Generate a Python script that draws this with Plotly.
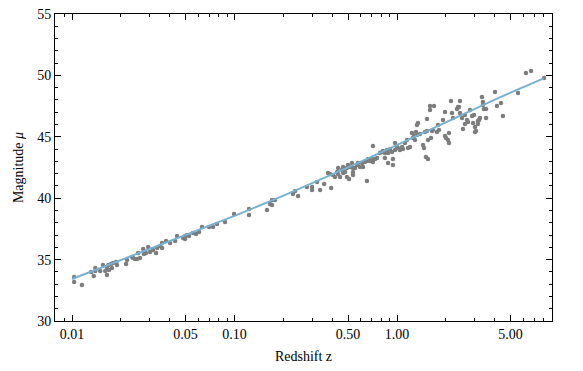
import plotly.graph_objects as go

# observed points: redshift z and distance modulus mu
z_obs = [
    0.0103, 0.0103, 0.0115, 0.0131, 0.0136, 0.0139, 0.0139, 0.0149, 0.0155, 0.0160,
    0.0164, 0.0164, 0.0167, 0.0169, 0.0174, 0.0176, 0.0179, 0.0187, 0.0189, 0.0215,
    0.0218, 0.0234, 0.0237, 0.0244, 0.0251, 0.0255, 0.0262, 0.0274, 0.0277, 0.0285,
    0.0294, 0.0302, 0.0315, 0.0329, 0.0334, 0.0348, 0.0358, 0.0358, 0.0379, 0.0401,
    0.0431, 0.0443, 0.0482, 0.0496, 0.0510, 0.0496, 0.0525, 0.0555, 0.0580, 0.0605,
    0.0631, 0.0697, 0.0738, 0.0780, 0.0874, 0.0993, 0.1228, 0.1228, 0.1585, 0.1701,
    0.1701, 0.1775, 0.1653,
    0.229, 0.236, 0.246, 0.279, 0.300, 0.300, 0.322, 0.336, 0.356, 0.393,
    0.376, 0.387, 0.404, 0.415, 0.428, 0.434, 0.434, 0.446, 0.459, 0.466,
    0.466, 0.479, 0.492, 0.499, 0.514, 0.528, 0.536, 0.536, 0.552, 0.492,
    0.507, 0.536, 0.568, 0.575, 0.592, 0.610, 0.618, 0.635, 0.653, 0.664,
    0.682, 0.702, 0.711, 0.733, 0.711, 0.653, 0.753, 0.785, 0.809, 0.820,
    0.843, 0.843, 0.867, 0.881, 0.881, 0.906, 0.931, 0.944, 0.944, 0.973,
    0.973, 1.000, 1.014, 1.043, 1.074, 1.089, 1.120, 1.152, 1.169,
    1.202, 1.236, 1.254, 1.273, 1.291, 1.327, 1.309, 1.385, 1.327, 1.346,
    1.486, 1.530, 1.530, 1.596, 1.596, 1.690, 1.552, 1.619, 1.445, 1.466,
    1.507, 1.552, 1.642, 1.665, 1.763, 1.812, 1.788, 1.919, 1.974, 1.974,
    2.003, 2.089, 2.089, 2.060, 2.149, 2.180, 2.211, 2.340, 2.373, 2.408,
    2.441, 2.441, 2.512, 2.547, 2.620, 2.620, 2.698, 2.735, 2.812, 2.897,
    2.938, 3.020, 3.062, 3.148, 3.148, 3.243, 2.979, 3.199, 3.020, 3.334,
    3.381, 3.381, 3.428, 3.532, 3.532, 4.009, 4.121, 4.365, 4.487, 5.555,
    6.219, 6.683, 8.035,
]
mu_obs = [
    33.58, 33.18, 32.93, 33.99, 33.67, 34.32, 34.07, 34.07, 34.56, 34.07,
    33.75, 34.32, 34.56, 34.15, 34.64, 34.32, 34.72, 34.81, 34.56, 34.64,
    34.97, 35.21, 35.13, 35.05, 35.05, 35.54, 35.13, 35.86, 35.46, 35.54,
    36.03, 35.62, 35.78, 35.54, 35.95, 36.11, 36.35, 35.95, 36.52, 36.35,
    36.52, 36.92, 36.76, 36.92, 37.00, 36.68, 36.92, 37.17, 37.09, 37.25,
    37.65, 37.65, 37.65, 37.90, 38.06, 38.71, 39.12, 38.63, 39.04, 39.45,
    39.85, 39.85, 39.53,
    40.34, 40.59, 40.18, 40.91, 40.91, 40.67, 41.32, 40.67, 41.16, 40.83,
    42.05, 41.97, 41.89, 41.73, 42.13, 41.97, 42.46, 41.73, 42.30, 42.54,
    42.05, 42.13, 42.46, 42.70, 42.54, 42.87, 42.46, 42.13, 42.46, 41.73,
    41.56, 41.89, 42.70, 42.87, 42.54, 42.87, 42.54, 42.95, 43.03, 43.19,
    43.03, 43.19, 42.95, 43.19, 44.25, 41.40, 43.27, 43.68, 43.76, 43.84,
    43.68, 43.27, 43.93, 43.68, 42.87, 44.01, 43.76, 43.19, 42.70, 44.50,
    43.93, 44.17, 44.09, 43.93, 44.17, 44.01, 44.50, 44.74, 44.09,
    44.17, 45.31, 44.90, 45.07, 44.74, 45.15, 45.39, 45.23, 45.96, 46.12,
    45.39, 45.47, 46.45, 47.18, 47.51, 47.51, 44.74, 44.90, 44.33, 44.09,
    43.36, 43.19, 45.47, 45.55, 45.39, 45.55, 45.96, 46.37, 47.02, 45.07,
    44.90, 45.31, 44.50, 44.74, 47.92, 46.94, 46.53, 47.26, 47.43, 47.43,
    47.92, 46.94, 46.53, 45.64, 46.04, 46.78, 46.37, 46.21, 47.18, 46.69,
    46.12, 45.80, 45.47, 46.29, 46.04, 46.53, 46.78, 46.37, 45.39, 48.24,
    47.83, 47.59, 47.26, 47.26, 46.53, 48.65, 47.51, 47.75, 46.69, 48.57,
    50.20, 50.36, 49.79,
]

# model curve
z_fit = [0.01, 0.02, 0.05, 0.1, 0.2, 0.3, 0.5, 0.7, 1.0, 1.5, 2.0, 3.0, 4.0, 5.0, 6.0, 8.0]
mu_fit = [33.42, 34.95, 36.98, 38.56, 40.21, 41.20, 42.51, 43.39, 44.35, 45.44,
          46.21, 47.27, 48.02, 48.59, 49.04, 49.76]

x_ticks = [0.01, 0.05, 0.1, 0.5, 1, 5]
x_labels = ["0.01", "0.05", "0.10", "0.50", "1.00", "5.00"]
x_minor = [0.009, 0.02, 0.03, 0.04, 0.06, 0.07, 0.08, 0.09,
           0.2, 0.3, 0.4, 0.6, 0.7, 0.8, 0.9,
           2, 3, 4, 6, 7, 8, 9]

serif = "Liberation Serif, Times New Roman, serif"

fig = go.Figure()
fig.add_trace(go.Scatter(
    x=z_obs, y=mu_obs, mode="markers",
    marker=dict(color="rgb(125,125,125)", size=4.5),
    hoverinfo="x+y"
))
fig.add_trace(go.Scatter(
    x=z_fit, y=mu_fit, mode="lines",
    line=dict(color="rgb(120,178,208)", width=2)
))

axis_common = dict(
    showline=True, linecolor="black", linewidth=1,
    mirror="allticks", ticks="inside", ticklen=6, tickcolor="black",
    showgrid=False, zeroline=False, automargin=False,
    ticklabeloverflow="allow",
    tickfont=dict(family=serif, size=14, color="black"),
)

fig.update_layout(
    width=583, height=371,
    margin=dict(l=55, r=31, t=14, b=50),
    paper_bgcolor="white", plot_bgcolor="white",
    showlegend=False,
    font=dict(family=serif, color="black"),
    xaxis=dict(
        type="log", range=[-2.105, 0.954],
        tickmode="array", tickvals=x_ticks, ticktext=x_labels,
        minor=dict(tickmode="array", tickvals=x_minor, ticks="inside",
                   ticklen=3, tickcolor="black"),
        title=dict(text="Redshift z", font=dict(family=serif, size=14), standoff=10),
        **axis_common
    ),
    yaxis=dict(
        range=[30, 55], tickmode="linear", tick0=30, dtick=5,
        minor=dict(dtick=1, ticks="inside", ticklen=3, tickcolor="black"),
        title=dict(text="Magnitude <i>μ</i>", font=dict(family=serif, size=14), standoff=10),
        **axis_common
    ),
)

# drop the browser's default body margin so the figure sits at the page corner
fig.write_html("out.html", config={"displayModeBar": False},
               post_script="document.body.style.margin='0';")
